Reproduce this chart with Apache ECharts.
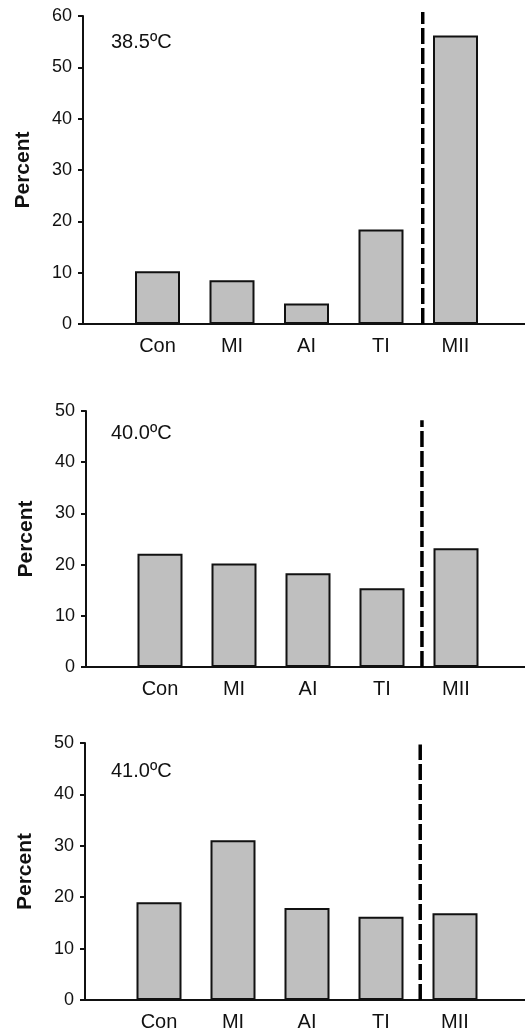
<!DOCTYPE html>
<html>
<head>
<meta charset="utf-8">
<script src="https://cdn.jsdelivr.net/npm/echarts@6/dist/echarts.min.js"></script>
<style>
html,body{margin:0;padding:0;background:#fff;}
#chart{width:525px;height:1035px;}
</style>
</head>
<body>
<div id="chart"></div>
<script>
// ---- data ----
const categories = ['Con', 'MI', 'AI', 'TI', 'MII'];
const panelTitles = ['38.5ºC', '40.0ºC', '41.0ºC'];
const values385 = [10.3, 8.5, 4.0, 18.4, 56.2];
const values400 = [22.1, 20.2, 18.3, 15.4, 23.2];
const values410 = [19.0, 31.1, 17.9, 16.2, 16.9];
const yMaxes = [60, 50, 50];
const yInterval = 10;
const yAxisName = 'Percent';
// dashed separator between TI and MII (position in category slots, top value)
const dividerPos = [4.56, 4.54, 4.53];
const dividerTop = [60.8, 48.2, 49.7];

// ---- layout ----
const grids = [
  { left: 83, top: 16, width: 447, height: 308, outerBoundsMode: 'none' },
  { left: 86, top: 411, width: 444, height: 256, outerBoundsMode: 'none' },
  { left: 85, top: 743, width: 444, height: 257, outerBoundsMode: 'none' }
];
const titleTops = [32, 423, 761];
const panelValues = [values385, values400, values410];

const font = '"Liberation Sans", Arial, sans-serif';
const ink = '#111';

const axisCats = [''].concat(categories, ['']);
const option = {
  animation: false,
  backgroundColor: '#fff',
  title: panelTitles.map((t, i) => ({
    text: t, left: 111, top: titleTops[i], padding: 0,
    textStyle: { fontFamily: font, fontSize: 20, fontWeight: 'normal', color: ink }
  })),
  grid: grids,
  xAxis: [],
  yAxis: [],
  series: []
};

for (let i = 0; i < 3; i++) {
  option.xAxis.push({
    type: 'category', gridIndex: i, data: axisCats, boundaryGap: false,
    axisLine: { lineStyle: { color: ink, width: 2 } },
    axisTick: { show: false },
    axisLabel: { interval: 0, margin: 12, fontFamily: font, fontSize: 20, color: ink },
    splitLine: { show: false }
  });
}
for (let i = 0; i < 3; i++) {
  option.xAxis.push({
    type: 'value', gridIndex: i, min: 0, max: axisCats.length - 1, show: false
  });
}
for (let i = 0; i < 3; i++) {
  option.yAxis.push({
    type: 'value', gridIndex: i, min: 0, max: yMaxes[i], interval: yInterval,
    name: yAxisName, nameLocation: 'middle', nameGap: 49,
    nameTextStyle: { fontFamily: font, fontSize: 21, fontWeight: 'bold', color: ink },
    axisLine: { show: true, lineStyle: { color: ink, width: 2 } },
    axisTick: { show: true, length: 5, lineStyle: { color: ink, width: 2 } },
    axisLabel: { margin: 11, fontFamily: font, fontSize: 18, color: ink },
    splitLine: { show: false }
  });
}
for (let i = 0; i < 3; i++) {
  option.series.push({
    type: 'bar', xAxisIndex: i, yAxisIndex: i,
    data: ['-'].concat(panelValues[i], ['-']),
    barWidth: 45,
    itemStyle: { color: '#bfbfbf', borderColor: '#111', borderWidth: 2 },
    silent: true
  });
  option.series.push({
    type: 'line', xAxisIndex: i + 3, yAxisIndex: i,
    data: [[dividerPos[i], 0], [dividerPos[i], dividerTop[i]]],
    symbol: 'none', clip: false, silent: true,
    lineStyle: { color: '#000', width: 3.5, type: [16, 4] },
    z: 5
  });
}

const chart = echarts.init(document.getElementById('chart'), null, { renderer: 'canvas' });
chart.setOption(option);
</script>
</body>
</html>
